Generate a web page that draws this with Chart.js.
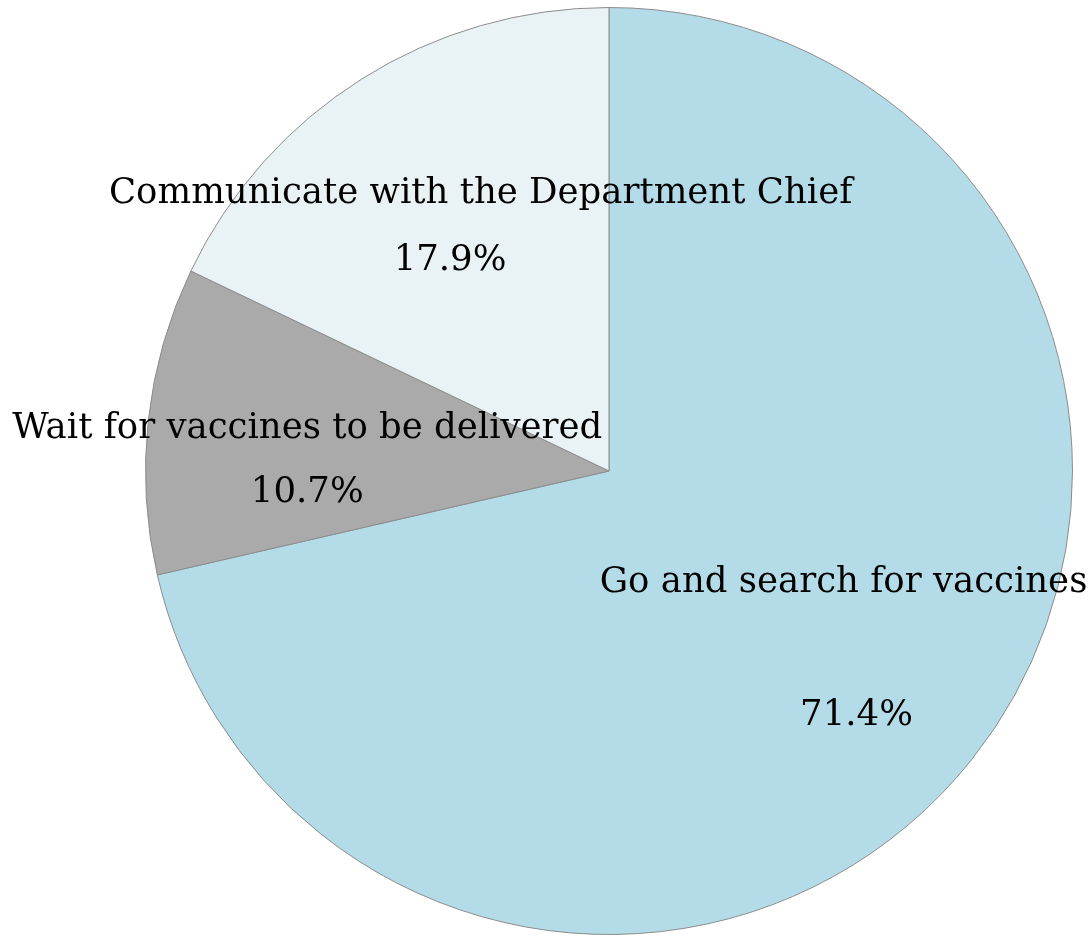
<!DOCTYPE html>
<html>
<head>
<meta charset="utf-8">
<script src="https://cdn.jsdelivr.net/npm/chart.js@4.4.1/dist/chart.umd.min.js"></script>
<style>
  html, body { margin: 0; padding: 0; background: #fff; }
  #wrap { width: 1090px; height: 941px; }
</style>
</head>
<body>
<div id="wrap"><canvas id="myChart"></canvas></div>
<script>
'use strict'
// slices go clockwise from 12 o'clock
let answers = ['Go and search for vaccines', 'Wait for vaccines to be delivered', 'Communicate with the Department Chief'];
let shares = [71.4, 10.7, 17.9];
let sliceColors = ['#b4dce8', '#aaaaaa', '#e9f2f4'];

// where each name / percent sits, as fractions of the radius from the centre
let namePos = [[0.506, 0.261], [-0.651, -0.071], [-0.277, -0.578]];
let pctPos = [[0.534, 0.547], [-0.651, 0.067], [-0.343, -0.433]];

const labelFont = '35.5px "DejaVu Serif"';

const sliceLabels = {
  id: 'sliceLabels',
  afterDatasetsDraw(chart) {
    let ctx = chart.ctx;
    let arcs = chart.getDatasetMeta(0).data;
    ctx.save();
    ctx.font = labelFont;
    ctx.fillStyle = '#000';
    ctx.textAlign = 'center';
    ctx.textBaseline = 'alphabetic';
    for (let i = 0; i < arcs.length; i++) {
      let a = arcs[i];
      let r = a.outerRadius;
      ctx.fillText(answers[i], a.x + namePos[i][0] * r, a.y + namePos[i][1] * r);
      ctx.fillText(shares[i].toFixed(1) + '%', a.x + pctPos[i][0] * r, a.y + pctPos[i][1] * r);
    }
    ctx.restore();
  }
};

const ctx = document.getElementById('myChart');

new Chart(ctx, {
  type: 'pie',
  data: {
    labels: answers,
    datasets: [{
      data: shares,
      backgroundColor: sliceColors,
      borderColor: '#8c8c8c',
      borderWidth: 1
    }]
  },
  options: {
    responsive: true,
    maintainAspectRatio: false,
    animation: false,
    layout: { padding: { left: 145, right: 17, top: 7, bottom: 6 } },
    plugins: {
      legend: { display: false },
      tooltip: { enabled: false }
    }
  },
  plugins: [sliceLabels]
});
</script>
</body>
</html>
